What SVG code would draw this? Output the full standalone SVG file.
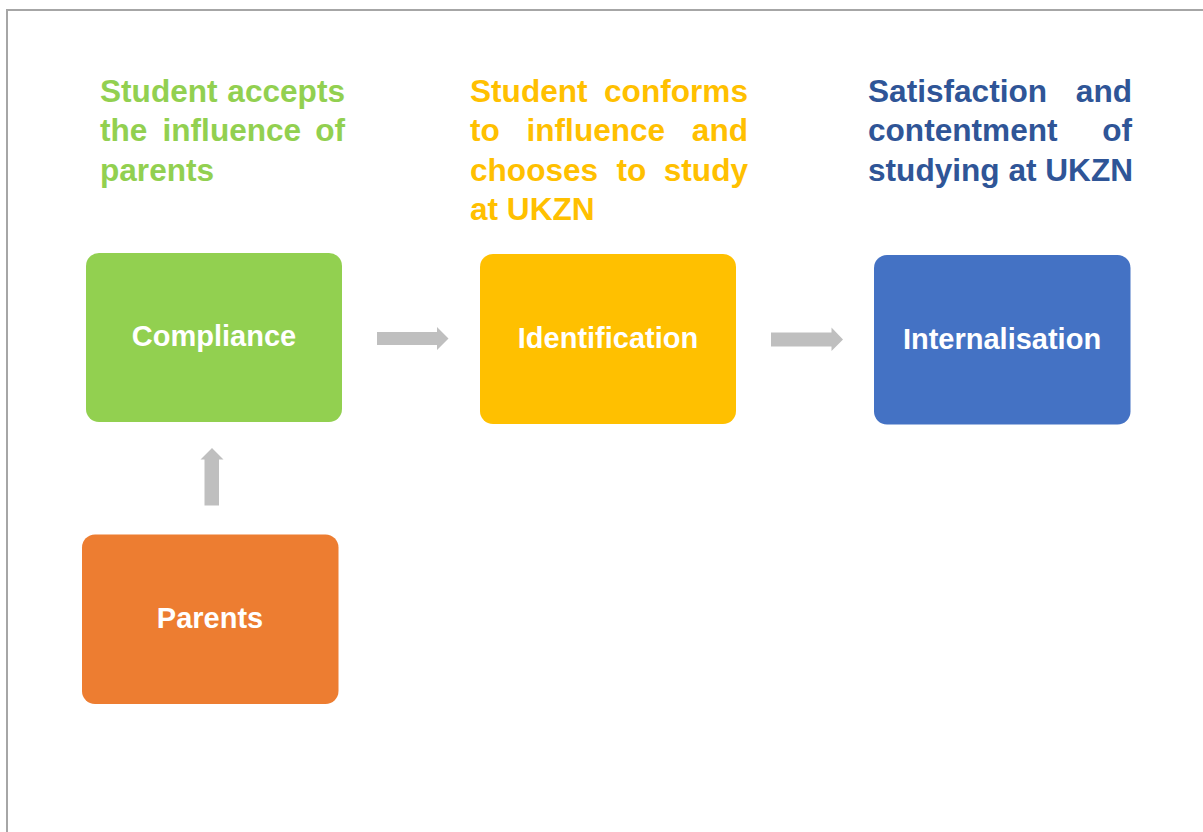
<svg xmlns="http://www.w3.org/2000/svg" width="1203" height="832" viewBox="0 0 1203 832">
  <style>
    .title { font-family: "Liberation Sans", Arial, sans-serif; font-weight: bold; font-size: 31.6px; }
    .green { fill: #92D050; }
    .amber { fill: #FFC000; }
    .navy { fill: #2F5597; }
    .label { font-family: "Liberation Sans", Arial, sans-serif; font-weight: bold; font-size: 29px; fill: #FFFFFF; text-anchor: middle; }
    .end { text-anchor: end; }
    .arrow { fill: #BFBFBF; }
  </style>

  <!-- page background and frame -->
  <rect x="0" y="0" width="1203" height="832" fill="#FFFFFF"/>
  <path d="M7 832 V10 H1203" fill="none" stroke="#A6A6A6" stroke-width="2"/>

  <!-- captions above each stage -->
  <g id="caption-compliance" class="title green">
    <text x="100" y="101.5">Student</text>
    <text x="345" y="101.5" class="end">accepts</text>
    <text x="100" y="141">the</text>
    <text x="162.5" y="141">influence</text>
    <text x="345" y="141" class="end">of</text>
    <text x="100" y="180.5">parents</text>
  </g>
  <g id="caption-identification" class="title amber">
    <text x="470" y="101.5">Student</text>
    <text x="748" y="101.5" class="end">conforms</text>
    <text x="470" y="141">to</text>
    <text x="526.5" y="141">influence</text>
    <text x="748" y="141" class="end">and</text>
    <text x="470" y="180.5">chooses</text>
    <text x="616.5" y="180.5">to</text>
    <text x="748" y="180.5" class="end">study</text>
    <text x="470" y="220">at UKZN</text>
  </g>
  <g id="caption-internalisation" class="title navy">
    <text x="868" y="101.5">Satisfaction</text>
    <text x="1132" y="101.5" class="end">and</text>
    <text x="868" y="141">contentment</text>
    <text x="1132" y="141" class="end">of</text>
    <text x="868" y="180.5">studying at UKZN</text>
  </g>

  <!-- stage boxes -->
  <g id="compliance">
    <rect x="86" y="253" width="256" height="169" rx="13" fill="#92D050"/>
    <text x="214" y="346" class="label">Compliance</text>
  </g>
  <g id="identification">
    <rect x="480" y="254" width="256" height="170" rx="13" fill="#FFC000"/>
    <text x="608" y="348" class="label">Identification</text>
  </g>
  <g id="internalisation">
    <rect x="874" y="255" width="256.5" height="169.5" rx="13" fill="#4472C4"/>
    <text x="1002" y="349" class="label">Internalisation</text>
  </g>
  <g id="parents">
    <rect x="82" y="534.5" width="256.5" height="169.5" rx="13" fill="#ED7D31"/>
    <text x="210" y="628" class="label">Parents</text>
  </g>

  <!-- block arrows between stages -->
  <g id="connectors" class="arrow">
    <polygon points="377,332 437,332 437,327 448.5,338.5 437,350 437,345 377,345"/>
    <polygon points="771,332.5 831.5,332.5 831.5,327.5 843,339.5 831.5,351 831.5,346.5 771,346.5"/>
    <polygon points="204.5,505.5 204.5,459.5 200.5,459.5 212,448 223.5,459.5 219,459.5 219,505.5"/>
  </g>
</svg>
